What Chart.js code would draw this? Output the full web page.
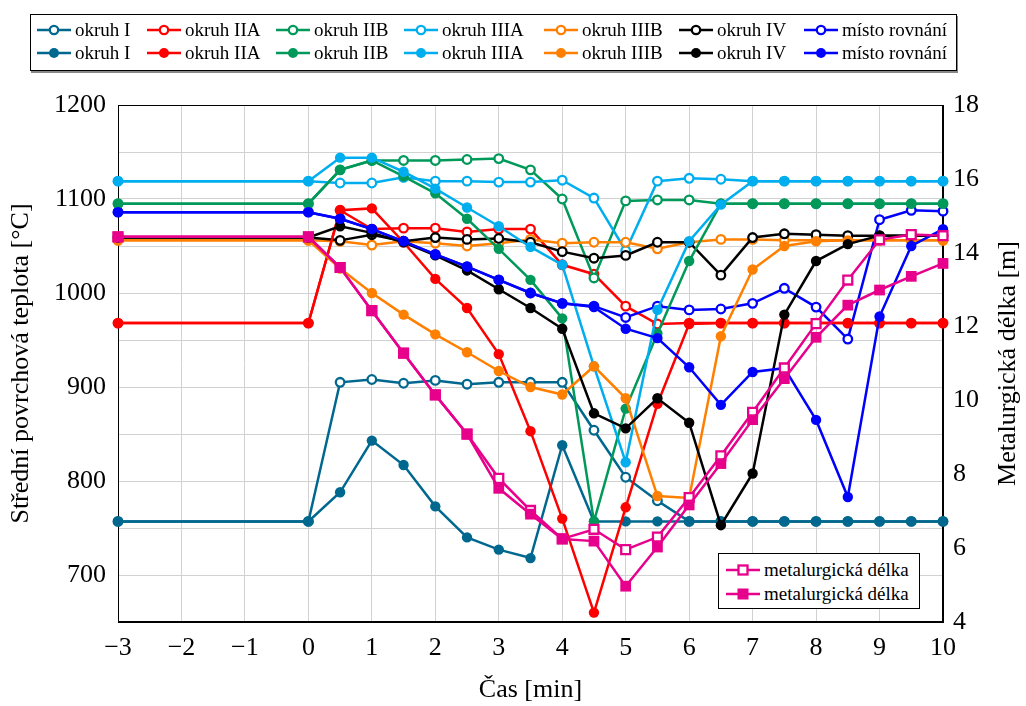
<!DOCTYPE html>
<html>
<head>
<meta charset="utf-8">
<script src="https://cdn.jsdelivr.net/npm/chart.js@4/dist/chart.umd.min.js"></script>
<style>
  body { margin: 0; background: #fff; }
  #wrap { position: relative; width: 1026px; height: 706px; }
  #chart { position: absolute; left: 0; top: 0; }
  .lg { position: absolute; background: #fff; border: 1px solid #000; box-sizing: border-box; }
  .it { position: absolute; height: 22px; font-family: "Liberation Serif", "Times New Roman", serif; font-size: 19px; line-height: 22px; white-space: nowrap; color: #000; }
  .it svg { position: absolute; left: 0; top: 0; }
  .it span { position: absolute; top: 0; font-family: "Liberation Serif", "Times New Roman", serif; }
</style>
</head>
<body>
<div id="wrap">
  <canvas id="chart" width="1026" height="706"></canvas>
  <div class="lg" id="topLegend" style="left:30px;top:14px;width:927px;height:57px;box-shadow:1px 2px 0 #888;"></div>
  <div class="lg" id="mlLegend" style="left:718px;top:553px;width:202px;height:56px;"></div>
</div>
<script>
// time axis [min]
const time = [-3, 0, 0.5, 1, 1.5, 2, 2.5, 3, 3.5, 4, 4.5, 5, 5.5, 6, 6.5, 7, 7.5, 8, 8.5, 9, 9.5, 10];

const names = ['okruh I', 'okruh IIA', 'okruh IIB', 'okruh IIIA', 'okruh IIIB', 'okruh IV', 'místo rovnání'];
const colors = ['#00688F', '#FF0000', '#00995A', '#00AEEF', '#FF8000', '#000000', '#0000FF'];

// surface temperature [°C], hollow markers
const okruhI_a    = [757, 757, 905, 908, 904, 907, 903, 905, 905, 905, 854, 804, 779, 757, 757, 757, 757, 757, 757, 757, 757, 757];
const okruhIIA_a  = [968, 968, 1088, 1068, 1069, 1069, 1065, 1068, 1068, 1030, 1020, 986, 967, 968, 968, 968, 968, 968, 968, 968, 968, 968];
const okruhIIB_a  = [1095, 1095, 1131, 1141, 1141, 1141, 1142, 1143, 1131, 1100, 1016, 1098, 1099, 1099, 1095, 1095, 1095, 1095, 1095, 1095, 1095, 1095];
const okruhIIIA_a = [1119, 1119, 1117, 1117, 1123, 1119, 1119, 1118, 1118, 1120, 1101, 1045, 1119, 1122, 1121, 1119, 1119, 1119, 1119, 1119, 1119, 1119];
const okruhIIIB_a = [1056, 1056, 1055, 1051, 1055, 1053, 1050, 1053, 1057, 1053, 1054, 1054, 1047, 1054, 1057, 1057, 1056, 1056, 1056, 1056, 1056, 1056];
const okruhIV_a   = [1059, 1059, 1056, 1062, 1055, 1059, 1057, 1058, 1054, 1044, 1037, 1040, 1054, 1054, 1019, 1059, 1063, 1062, 1061, 1061, 1061, 1061];
const rovnani_a   = [1086, 1086, 1079, 1068, 1055, 1041, 1028, 1014, 1000, 989, 986, 974, 986, 982, 983, 989, 1005, 985, 951, 1078, 1088, 1087];

// surface temperature [°C], filled markers
const okruhI_b    = [757, 757, 788, 843, 817, 773, 740, 727, 718, 838, 757, 757, 757, 757, 757, 757, 757, 757, 757, 757, 757, 757];
const okruhIIA_b  = [968, 968, 1088, 1090, 1054, 1015, 984, 935, 853, 760, 660, 772, 882, 967, 968, 968, 968, 968, 968, 968, 968, 968];
const okruhIIB_b  = [1095, 1095, 1131, 1141, 1124, 1106, 1079, 1047, 1014, 973, 757, 877, 957, 1034, 1095, 1095, 1095, 1095, 1095, 1095, 1095, 1095];
const okruhIIIA_b = [1119, 1119, 1144, 1144, 1129, 1111, 1091, 1071, 1049, 1030, 922, 820, 982, 1055, 1094, 1119, 1119, 1119, 1119, 1119, 1119, 1119];
const okruhIIIB_b = [1056, 1056, 1026, 1000, 977, 956, 937, 917, 900, 892, 922, 888, 784, 782, 954, 1025, 1050, 1055, 1056, 1056, 1056, 1056];
const okruhIV_b   = [1059, 1059, 1071, 1064, 1054, 1040, 1024, 1004, 984, 962, 872, 856, 888, 862, 753, 808, 977, 1034, 1052, 1061, 1061, 1061];
const rovnani_b   = [1086, 1086, 1079, 1068, 1055, 1041, 1028, 1014, 1000, 989, 985, 962, 952, 921, 881, 916, 920, 865, 783, 975, 1050, 1068];

// metallurgical length [m]
const metDelka_a = [14.43, 14.43, 13.6, 12.43, 11.28, 10.15, 9.09, 7.89, 7.02, 6.25, 6.51, 5.96, 6.30, 7.37, 8.50, 9.68, 10.88, 12.08, 13.26, 14.35, 14.49, 14.46];
const metDelka_b = [14.43, 14.43, 13.6, 12.43, 11.28, 10.15, 9.09, 7.62, 6.92, 6.25, 6.19, 4.97, 6.03, 7.17, 8.29, 9.48, 10.59, 11.71, 12.58, 12.99, 13.36, 13.71];

const tempTicks = [700, 800, 900, 1000, 1100, 1200];
const pink = '#E6008C';

const hollowSets = [okruhI_a, okruhIIA_a, okruhIIB_a, okruhIIIA_a, okruhIIIB_a, okruhIV_a, rovnani_a];
const filledSets = [okruhI_b, okruhIIA_b, okruhIIB_b, okruhIIIA_b, okruhIIIB_b, okruhIV_b, rovnani_b];

const pts = vals => vals.map((v, i) => ({ x: time[i], y: v }));

let datasets = [];
hollowSets.forEach((vals, i) => {
  datasets.push({
    label: names[i], data: pts(vals), yAxisID: 'y',
    borderColor: colors[i], backgroundColor: colors[i], borderWidth: 2.5,
    pointRadius: 4.3, pointBackgroundColor: '#fff', pointBorderColor: colors[i], pointBorderWidth: 2.3
  });
});
filledSets.forEach((vals, i) => {
  datasets.push({
    label: names[i], data: pts(vals), yAxisID: 'y',
    borderColor: colors[i], backgroundColor: colors[i], borderWidth: 2.5,
    pointRadius: 5.2, pointBackgroundColor: colors[i], pointBorderColor: colors[i], pointBorderWidth: 0
  });
});
datasets.push({
  label: 'metalurgická délka', data: pts(metDelka_a), yAxisID: 'y2',
  borderColor: pink, borderWidth: 2.5, pointStyle: 'rect',
  pointRadius: 6.3, pointBackgroundColor: '#fff', pointBorderColor: pink, pointBorderWidth: 2.3
});
datasets.push({
  label: 'metalurgická délka', data: pts(metDelka_b), yAxisID: 'y2',
  borderColor: pink, borderWidth: 2.5, pointStyle: 'rect',
  pointRadius: 7.6, pointBackgroundColor: pink, pointBorderColor: pink, pointBorderWidth: 0
});
// first plotted at the bottom, like pgfplots
datasets.forEach((d, i) => { d.order = -i; d.clip = false; d.tension = 0; });

const fontFamily = "'Liberation Serif', 'Times New Roman', serif";
const font = { family: fontFamily, size: 26 };
const gridColor = '#d2d2d2';

// box around plot + right axis title read bottom-to-top
const frame = {
  id: 'frame',
  beforeDatasetsDraw(chart) {
    const a = chart.chartArea, ctx = chart.ctx;
    ctx.save();
    ctx.strokeStyle = '#000';
    ctx.lineWidth = 1;
    ctx.strokeRect(a.left + 0.5, a.top + 0.5, a.right - a.left - 1, a.bottom - a.top - 1);
    ctx.restore();
  },
  afterDraw(chart) {
    const a = chart.chartArea, ctx = chart.ctx;
    ctx.save();
    ctx.translate(1008, (a.top + a.bottom) / 2);
    ctx.rotate(-Math.PI / 2);
    ctx.font = `26px ${fontFamily}`;
    ctx.fillStyle = '#000';
    ctx.textAlign = 'center';
    ctx.textBaseline = 'middle';
    ctx.fillText('Metalurgická délka [m]', 0, 0);
    ctx.restore();
  }
};

Chart.defaults.color = '#000';

new Chart(document.getElementById('chart'), {
  type: 'line',
  data: { datasets },
  plugins: [frame],
  options: {
    responsive: false,
    animation: false,
    devicePixelRatio: 1,
    layout: { padding: { top: 105, left: 0, right: 0, bottom: 0 } },
    plugins: { legend: { display: false }, tooltip: { enabled: false } },
    scales: {
      x: {
        type: 'linear', min: -3, max: 10,
        ticks: {
          stepSize: 1, autoSkip: false, maxRotation: 0, font, padding: 11,
          callback: v => String(v).replace('-', '\u2212')
        },
        grid: { color: gridColor, drawTicks: false },
        border: { color: '#000', width: 1 },
        title: { display: true, text: 'Čas [min]', font, padding: { top: 0, bottom: 0 } },
        afterFit: s => { s.height = 84; }
      },
      y: {
        position: 'left', min: 650, max: 1200,
        ticks: {
          stepSize: 50, autoSkip: false, font, padding: 12,
          callback: v => tempTicks.includes(v) ? String(v) : ''
        },
        grid: { color: gridColor, drawTicks: false },
        border: { color: '#000', width: 1 },
        title: { display: true, text: 'Střední povrchová teplota [°C]', font, padding: { top: 6, bottom: 0 } },
        afterFit: s => { s.width = 118; }
      },
      y2: {
        position: 'right', min: 4, max: 18,
        ticks: { stepSize: 2, autoSkip: false, font, padding: 10 },
        grid: { drawOnChartArea: false, drawTicks: false },
        border: { color: '#000', width: 1 },
        afterFit: s => { s.width = 83; }
      }
    }
  }
});

// legends (HTML)
function icon(color, filled, shape) {
  const fill = filled ? color : '#fff';
  const mark = shape === 'rect'
    ? (filled ? `<rect x="11.5" y="5.5" width="11" height="11" fill="${color}"/>`
              : `<rect x="12.5" y="6.5" width="9" height="9" fill="#fff" stroke="${color}" stroke-width="2.3"/>`)
    : `<circle cx="17" cy="11" r="${filled ? 5 : 4.2}" fill="${fill}" stroke="${color}" stroke-width="${filled ? 0 : 2.3}"/>`;
  return `<svg width="34" height="22"><line x1="0" y1="11" x2="34" y2="11" stroke="${color}" stroke-width="2.5"/>${mark}</svg>`;
}
function addItem(box, x, y, color, filled, shape, text) {
  const d = document.createElement('div');
  d.className = 'it';
  d.style.left = x + 'px';
  d.style.top = y + 'px';
  d.innerHTML = icon(color, filled, shape) + `<span style="left:38px">${text}</span>`;
  box.appendChild(d);
}
const colX = [6, 116, 245, 373, 513, 648, 773];
const topBox = document.getElementById('topLegend');
names.forEach((n, i) => {
  addItem(topBox, colX[i], 4, colors[i], false, 'circle', n);
  addItem(topBox, colX[i], 27, colors[i], true, 'circle', n);
});
const mlBox = document.getElementById('mlLegend');
addItem(mlBox, 7, 5, pink, false, 'rect', 'metalurgická délka');
addItem(mlBox, 7, 29, pink, true, 'rect', 'metalurgická délka');
</script>
</body>
</html>
